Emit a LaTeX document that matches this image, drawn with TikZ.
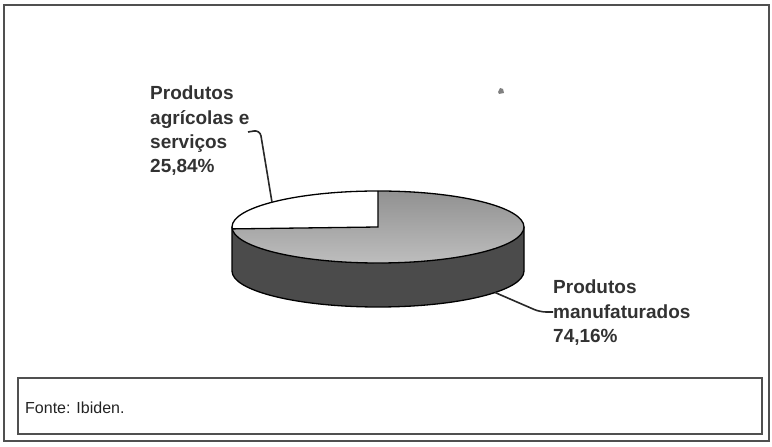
\documentclass[tikz,border=0pt]{standalone}
\usepackage{fontspec}
\setmainfont{Liberation Sans}
\begin{document}
\begin{tikzpicture}[x=1pt,y=1pt,
  frame/.style={draw={rgb,255:red,80;green,80;blue,80},line width=1.4pt},
  lbl/.style={inner sep=0pt,align=left,text={rgb,255:red,50;green,50;blue,50},
    font=\fontsize{19}{24.3}\selectfont\bfseries},
  leader/.style={draw={rgb,255:red,40;green,40;blue,40},line width=1.6pt,rounded corners=6pt},
  pieline/.style={line width=1.3pt,draw=black}]
\definecolor{topgray}{RGB}{145,145,145}
\definecolor{toplight}{RGB}{190,190,190}
\definecolor{sidegray}{RGB}{75,75,75}
\useasboundingbox (0,0) rectangle (772,447);
% outer frame
\path[frame] (4,6) rectangle (769,442);
% source box
\path[frame] (18,13) rectangle (762,69);
\node[anchor=base west,inner sep=0pt,text={rgb,255:red,35;green,35;blue,35},
  font=\fontsize{16}{18}\selectfont] (fonte) at (25,33) {Fonte: Ibiden.};
% pie side
\fill[sidegray] (232,220) -- (232,176)
  arc[start angle=180,end angle=360,x radius=146,y radius=36]
  -- (524,220)
  arc[start angle=360,end angle=180,x radius=146,y radius=36] -- cycle;
\draw[pieline] (232,220) -- (232,176)
  arc[start angle=180,end angle=360,x radius=146,y radius=36]
  -- (524,220);
% pie top: grey slice
\shade[top color=topgray,bottom color=toplight] (378,220) -- (232.2,218.1)
  arc[start angle=183,end angle=450,x radius=146,y radius=36] -- cycle;
% white slice
\fill[white] (378,220) -- (378,256)
  arc[start angle=90,end angle=183,x radius=146,y radius=36] -- cycle;
\draw[pieline] (378,256) -- (378,220) -- (232.2,218.1);
\draw[pieline] (378,220) ellipse [x radius=146,y radius=36];
% speck
\fill[gray] (498,355) -- (500,359) -- (503,358) -- (504,354) -- (499,353) -- cycle;
% labels
\node[lbl,anchor=north west] (agri) at (150,361)
  {Produtos\\agrícolas e\\serviços\\25,84\%};
\node[lbl,anchor=north west] (manu) at (553,167)
  {Produtos\\manufaturados\\74,16\%};
% leaders
\coordinate (a0) at (248,315);
\coordinate (a1) at (260,317);
\coordinate (a2) at (272,244.8);
\coordinate (m0) at (495,154.5);
\coordinate (m1) at (540,135);
\coordinate (m2) at (553,135);
\draw[leader] (a0) -- (a1) -- (a2);
\draw[leader] (m0) -- (m1) -- (m2);
\end{tikzpicture}
\end{document}
